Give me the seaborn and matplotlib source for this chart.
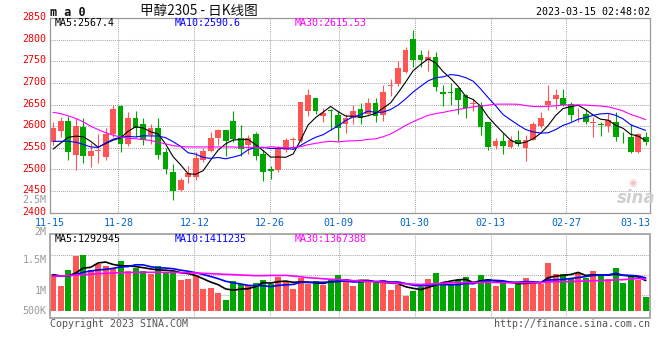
import numpy as np
import pandas as pd
import matplotlib
matplotlib.use("Agg")
import matplotlib.pyplot as plt
import matplotlib.transforms as mtransforms
import seaborn as sns

# ---------------- data ----------------
opens = [2563, 2588, 2613, 2533, 2599, 2531, 2542, 2529, 2583, 2646,
         2559, 2618, 2606, 2579, 2596, 2540, 2495, 2452, 2483, 2483,
         2521, 2542, 2573, 2590, 2611, 2572, 2556, 2583, 2535, 2502,
         2499, 2544, 2567, 2565, 2634, 2665, 2623, 2638, 2625, 2604,
         2619, 2640, 2629, 2654, 2625, 2692, 2698, 2725, 2802, 2765,
         2752, 2760, 2680, 2680, 2689, 2671, 2652, 2650, 2610, 2554,
         2565, 2553, 2567, 2549, 2569, 2600, 2648, 2663, 2665, 2652,
         2634, 2629, 2607, 2605, 2600, 2610, 2575, 2575, 2540, 2576]
highs = [2610, 2621, 2623, 2618, 2619, 2562, 2582, 2595, 2650, 2648,
         2633, 2634, 2618, 2604, 2618, 2550, 2513, 2481, 2508, 2541,
         2550, 2587, 2594, 2591, 2634, 2602, 2579, 2587, 2544, 2509,
         2555, 2573, 2575, 2656, 2685, 2666, 2642, 2640, 2635, 2627,
         2649, 2654, 2665, 2665, 2696, 2710, 2750, 2782, 2822, 2775,
         2777, 2772, 2696, 2699, 2690, 2675, 2663, 2655, 2610, 2573,
         2585, 2577, 2592, 2579, 2609, 2633, 2696, 2687, 2687, 2656,
         2642, 2639, 2621, 2610, 2631, 2632, 2587, 2606, 2585, 2586]
lows = [2556, 2576, 2522, 2499, 2514, 2505, 2514, 2522, 2575, 2541,
        2554, 2575, 2556, 2558, 2523, 2490, 2429, 2449, 2468, 2475,
        2517, 2541, 2556, 2531, 2563, 2531, 2535, 2522, 2473, 2477,
        2494, 2540, 2548, 2564, 2623, 2627, 2610, 2592, 2565, 2585,
        2604, 2604, 2627, 2609, 2612, 2669, 2692, 2723, 2736, 2736,
        2728, 2682, 2646, 2650, 2629, 2618, 2636, 2579, 2545, 2548,
        2536, 2550, 2554, 2519, 2567, 2595, 2637, 2640, 2646, 2612,
        2610, 2606, 2575, 2577, 2587, 2565, 2560, 2538, 2539, 2556]
closes = [2595, 2611, 2541, 2600, 2531, 2542, 2543, 2583, 2639, 2558,
          2618, 2595, 2569, 2595, 2533, 2500, 2450, 2475, 2492, 2527,
          2542, 2572, 2590, 2565, 2571, 2548, 2572, 2531, 2495, 2496,
          2550, 2568, 2570, 2655, 2671, 2636, 2631, 2635, 2595, 2620,
          2634, 2618, 2654, 2623, 2680, 2695, 2735, 2777, 2754, 2752,
          2759, 2690, 2675, 2676, 2660, 2643, 2654, 2598, 2552, 2565,
          2554, 2569, 2558, 2569, 2604, 2618, 2659, 2673, 2650, 2625,
          2635, 2609, 2609, 2602, 2615, 2575, 2574, 2540, 2581, 2563]
volumes = [1573000, 1063000, 1743000, 2352000, 2395000, 1729000, 1998000, 1927000, 1842000, 2126000,
           1700000, 1842000, 1700000, 1573000, 1913000, 1644000, 1700000, 1318000, 1374000, 1516000,
           949000, 992000, 765000, 468000, 1261000, 1148000, 1105000, 1204000, 1318000, 1162000,
           1445000, 1233000, 949000, 1389000, 1134000, 1275000, 1105000, 1318000, 1530000, 1360000,
           1063000, 1247000, 1304000, 1190000, 1304000, 893000, 1119000, 652000, 850000, 1034000,
           1360000, 1615000, 1190000, 1162000, 1304000, 1445000, 978000, 1530000, 1360000, 1063000,
           1190000, 978000, 1233000, 1403000, 1233000, 1162000, 2040000, 1573000, 1573000, 1403000,
           1615000, 1403000, 1700000, 1530000, 1360000, 1828000, 1190000, 1530000, 1332000, 595000]

# moving-average values at the start of the window (they depend on earlier, unseen days)
ma5_head = [2547, 2561, 2574, 2577]
ma10_head = [2565, 2565, 2565, 2563, 2558, 2552, 2551, 2561, 2570]
ma30_head = [2632, 2629, 2624, 2618, 2610, 2600, 2592, 2585, 2579, 2575,
             2572, 2571, 2569, 2567, 2563, 2559, 2555, 2553, 2552, 2552,
             2552, 2552, 2552, 2552, 2552, 2551, 2551, 2551, 2550]
vma5_head = [1545000, 1488000, 1488000, 1615000]
vma10_head = [1502000, 1488000, 1488000, 1545000, 1644000, 1700000, 1743000, 1771000, 1814000]
vma30_head = [1474000, 1488000, 1502000, 1530000, 1545000, 1559000, 1587000, 1601000, 1615000, 1630000,
              1630000, 1644000, 1644000, 1644000, 1644000, 1644000, 1644000, 1630000, 1630000, 1615000,
              1601000, 1587000, 1573000, 1559000, 1545000, 1530000, 1516000, 1502000, 1502000]

tick_labels = ['11-15', '11-28', '12-12', '12-26', '01-09', '01-30', '02-13', '02-27', '03-13']
tick_idx = [0, 9, 19, 29, 38, 48, 58, 68, 78]
price_ticks = [2400, 2450, 2500, 2550, 2600, 2650, 2700, 2750, 2800, 2850]
vol_axis_labels = ['2.5M', '2M', '1.5M', '1M', '500K']
legend_price = ['MA5:2567.4', 'MA10:2590.6', 'MA30:2615.53']
legend_vol = ['MA5:1292945', 'MA10:1411235', 'MA30:1367388']
title_text = '甲醇2305 - 日K线图'
stamp_text = '2023-03-15 02:48:02'

# ---------------- styling ----------------
RED = '#ff5555'
GREEN = '#00a600'
MA_COLORS = ['#000000', '#0000ff', '#ff00ff']
GRID = dict(color='#aaaaaa', linestyle=(0, (1, 1)), linewidth=0.75)

sns.set_style('white')
plt.rcParams['font.family'] = ['DejaVu Sans Mono', 'Noto Sans CJK SC']

df = pd.DataFrame({'open': opens, 'high': highs, 'low': lows, 'close': closes, 'vol': volumes})
df['idx'] = np.arange(len(df))
df['dir'] = np.where(df['close'] >= df['open'], 'up', 'down')
palette = {'up': RED, 'down': GREEN}


def moving(series, n, head):
    m = series.rolling(n).mean()
    m.iloc[:len(head)] = head
    return m


df['ma5'] = moving(df['close'], 5, ma5_head)
df['ma10'] = moving(df['close'], 10, ma10_head)
df['ma30'] = moving(df['close'], 30, ma30_head)
df['vma5'] = moving(df['vol'], 5, vma5_head)
df['vma10'] = moving(df['vol'], 10, vma10_head)
df['vma30'] = moving(df['vol'], 30, vma30_head)

W, H = 660, 360
fig = plt.figure(figsize=(W / 100, H / 100), dpi=100)
fig.patch.set_facecolor('white')


def fx(px):
    return px / W


def fy(py):
    return 1 - py / H


ax = fig.add_axes([fx(50), fy(212.7), 600 / W, (212.7 - 18) / H])
axv = fig.add_axes([fx(50), fy(318), 600 / W, (318 - 234.3) / H])

XL, XR = -0.42, 79.58
BW = 0.76

# ---- candles ----
colors = df['dir'].map(palette)
ax.vlines(df['idx'], df['low'], df['high'], colors=colors, linewidth=0.8, zorder=2)
body_lo = np.minimum(df['open'], df['close'])
body_h = np.maximum(np.abs(df['close'] - df['open']), 2.0)
ax.bar(df['idx'], body_h, bottom=body_lo, width=BW, color=colors, linewidth=0, zorder=2.5)

for col, c in zip(['ma5', 'ma10', 'ma30'], MA_COLORS):
    sns.lineplot(x=df['idx'], y=df[col], ax=ax, color=c, linewidth=0.8,
                 estimator=None, sort=False, zorder=3)

ax.set_xlim(XL, XR)
ax.set_ylim(2400, 2850)
xpos = XL + np.array(tick_idx) * 80 / 79
ax.set_xticks(xpos, tick_labels)
ax.set_yticks(price_ticks, [str(t) for t in price_ticks])
ax.set_xlabel('')
ax.set_ylabel('')
ax.grid(True, **GRID)
ax.set_axisbelow(True)
ax.tick_params(axis='y', length=0, pad=2.4, labelsize=7.2, labelcolor='#ee0000')
ax.tick_params(axis='x', length=0, pad=3.6, labelsize=7.2, labelcolor='#0066cc')
for s in ax.spines.values():
    s.set_color('#999999')
    s.set_linewidth(0.9)
ax.spines['top'].set_linestyle((0, (1, 1)))
ax.get_xgridlines()[-1].set_visible(False)
up = mtransforms.ScaledTranslation(0, 0.018, fig.dpi_scale_trans)
for lbl in ax.get_yticklabels():
    lbl.set_transform(lbl.get_transform() + up)
xl = ax.get_xticklabels()
xl[-1].set_ha('right')
xl[-1].set_transform(xl[-1].get_transform() + mtransforms.ScaledTranslation(0.076, 0, fig.dpi_scale_trans))

# ---- volume ----
sns.barplot(data=df, x='idx', y='vol', hue='dir', palette=palette, dodge=False,
            width=BW, native_scale=True, errorbar=None, legend=False,
            saturation=1, linewidth=0, ax=axv, zorder=2)
for col, c in zip(['vma5', 'vma10', 'vma30'], MA_COLORS):
    sns.lineplot(x=df['idx'], y=df[col], ax=axv, color=c, linewidth=1.2,
                 estimator=None, sort=False, zorder=3)
VLO, VHI = -297000, 3260000
axv.set_xlim(XL, XR)
axv.set_ylim(VLO, VHI)
axv.set_xticks(xpos)
axv.set_yticks([VLO + f * (VHI - VLO) for f in (0.27, 0.51, 0.75)])
axv.tick_params(length=0, labelbottom=False, labelleft=False)
axv.set_xlabel('')
axv.set_ylabel('')
axv.grid(True, **GRID)
axv.set_axisbelow(True)
axv.get_xgridlines()[-1].set_visible(False)
for s in axv.spines.values():
    s.set_color('#aaaaaa')
    s.set_linewidth(1.4)

# ---- texts ----
fig.text(fx(50.5), fy(12), 'm a 0', fontsize=8.5, weight='bold', va='center', ha='left', color='#111111')
fig.text(fx(140), fy(10.5), title_text, family=['Noto Sans CJK SC', 'DejaVu Sans'],
         fontsize=9.8, va='center', ha='left', color='#111111')
fig.text(fx(650), fy(12), stamp_text, fontsize=7.2, va='center', ha='right', color='#000000')
for txt, x0, c in zip(legend_price, [54.3, 174.3, 295], MA_COLORS):
    fig.text(fx(x0), fy(23), txt, fontsize=7.2, va='center', ha='left', color=c)
for txt, x0, c in zip(legend_vol, [54.3, 174.3, 295], MA_COLORS):
    fig.text(fx(x0), fy(238.5), txt, fontsize=7.2, va='center', ha='left', color=c)
for txt, y0 in zip(vol_axis_labels, [200, 231.5, 260, 290.7, 310.7]):
    fig.text(fx(46.7), fy(y0), txt, fontsize=7.2, va='center', ha='right', color='#999999')
fig.text(fx(50), fy(324), 'Copyright 2023 SINA.COM', fontsize=7.2, va='center', ha='left', color='#555555')
fig.text(fx(650), fy(324), 'http://finance.sina.com.cn', fontsize=7.2, va='center', ha='right', color='#555555')
fig.text(fx(636), fy(198), 'sina', family='DejaVu Sans', fontsize=12, weight='bold', style='italic',
         va='center', ha='center', color='#cfcfcf')
fig.text(fx(633), fy(183), '◉', family='DejaVu Sans', fontsize=7, va='center', ha='center', color='#f2c2c2')

fig.savefig('out.png', dpi=100, facecolor='white')
